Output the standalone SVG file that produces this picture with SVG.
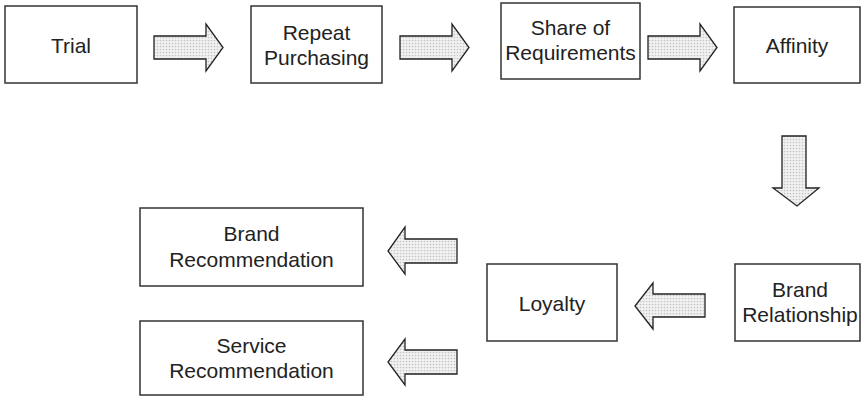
<svg xmlns="http://www.w3.org/2000/svg" width="861" height="397" viewBox="0 0 861 397">
<style>
.box{fill:#fff;stroke:#333;stroke-width:1.5}
.lbl{font-family:"Liberation Sans",Arial,sans-serif;font-size:21px;fill:#222;text-anchor:middle}
.arr{fill:url(#dots);stroke:#222;stroke-width:1.3;stroke-linejoin:miter}
</style>
<defs>
<pattern id="dots" width="3" height="3" patternUnits="userSpaceOnUse">
<rect width="3" height="3" fill="#f2f2f2"/>
<circle cx="1.5" cy="1.5" r="0.85" fill="#c4c4c4"/>
</pattern>
</defs>
<rect width="861" height="397" fill="#fff"/>
<g id="connectors">
<path class="arr" d="M154,36 H206 V24 L223,47.5 L206,71 V59 H154 Z"/>
<path class="arr" d="M400,36 H452 V24 L469,47.5 L452,71 V59 H400 Z"/>
<path class="arr" d="M648,36 H700 V24 L717,47.5 L700,71 V59 H648 Z"/>
<path class="arr" d="M782,136 H806 V188 H819 L797,206 L773,188 H782 Z"/>
<path class="arr" d="M705,294 H653 V283 L635,306 L653,329 V317 H705 Z"/>
<path class="arr" d="M457,239 H405 V227 L388,251 L405,274 V263 H457 Z"/>
<path class="arr" d="M457,350 H405 V339 L388,362 L405,385 V374 H457 Z"/>
</g>
<g id="trial"><rect class="box" x="5" y="6" width="132" height="77"/><text class="lbl" x="71" y="52.5">Trial</text></g>
<g id="repeat"><rect class="box" x="251" y="6" width="131" height="77"/><text class="lbl" x="316.5" y="39.5">Repeat</text><text class="lbl" x="316.5" y="65">Purchasing</text></g>
<g id="share"><rect class="box" x="501" y="3" width="139" height="76"/><text class="lbl" x="570.5" y="35">Share of</text><text class="lbl" x="570.5" y="60">Requirements</text></g>
<g id="affinity"><rect class="box" x="734" y="7" width="126" height="76"/><text class="lbl" x="797" y="53">Affinity</text></g>
<g id="brandrel"><rect class="box" x="735" y="264" width="125" height="77"/><text class="lbl" x="800" y="296.5">Brand</text><text class="lbl" x="800" y="322">Relationship</text></g>
<g id="loyalty"><rect class="box" x="487" y="264" width="130" height="77"/><text class="lbl" x="552" y="311">Loyalty</text></g>
<g id="brandrec"><rect class="box" x="140" y="208" width="223" height="78"/><text class="lbl" x="251.5" y="241">Brand</text><text class="lbl" x="251.5" y="266.5">Recommendation</text></g>
<g id="servicerec"><rect class="box" x="140" y="321" width="223" height="74"/><text class="lbl" x="251.5" y="352.5">Service</text><text class="lbl" x="251.5" y="377.5">Recommendation</text></g>
</svg>
